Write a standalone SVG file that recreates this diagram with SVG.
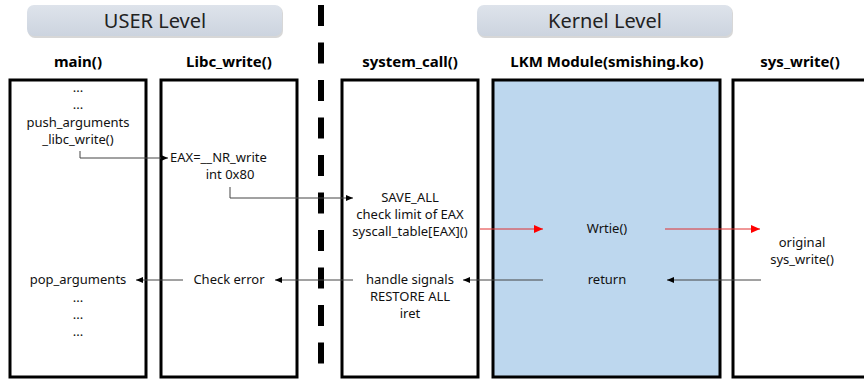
<svg xmlns="http://www.w3.org/2000/svg" width="864" height="380" viewBox="0 0 864 380">
<style>
.t{font-family:"Noto Sans","Liberation Sans",sans-serif;font-size:13px;fill:#111;text-anchor:middle}
.h{font-family:"Noto Sans","Liberation Sans",sans-serif;font-size:15px;font-weight:bold;fill:#000;text-anchor:middle}
.lv{font-family:"Noto Sans","Liberation Sans",sans-serif;font-size:20px;fill:#222;text-anchor:middle}
.box{fill:#fff;stroke:#000;stroke-width:3}
.c{fill:none;stroke:#444;stroke-width:1}
.r{fill:none;stroke:#e03030;stroke-width:1}
</style>
<defs>
<marker id="ab" markerWidth="8" markerHeight="8" refX="7" refY="4" orient="auto" markerUnits="userSpaceOnUse"><path d="M0,1 L7,4 L0,7 Z" fill="#000"/></marker>
<marker id="ar" markerWidth="10" markerHeight="10" refX="9" refY="5" orient="auto" markerUnits="userSpaceOnUse"><path d="M0,1 L9,5 L0,9 Z" fill="#f00"/></marker>
<linearGradient id="lg" x1="0" y1="0" x2="0" y2="1"><stop offset="0" stop-color="#DEE3EB"/><stop offset="1" stop-color="#CCD4DF"/></linearGradient>
</defs>
<g id="user-level"><rect x="28" y="6" width="255" height="32" rx="7" fill="#b0b0b0" opacity="0.5"/><rect x="27" y="5" width="255" height="31" rx="7" fill="url(#lg)"/><text class="lv" x="155" y="28">USER Level</text></g>
<g id="kernel-level"><rect x="478" y="6" width="255" height="32" rx="7" fill="#b0b0b0" opacity="0.5"/><rect x="477" y="5" width="255" height="31" rx="7" fill="url(#lg)"/><text class="lv" x="605" y="28">Kernel Level</text></g>
<g id="divider"><line x1="321" y1="5" x2="321" y2="380" stroke="#000" stroke-width="6" stroke-dasharray="21 16.5"/></g>
<g id="main">
<text class="h" x="78" y="67">main()</text>
<rect class="box" x="10" y="80" width="136" height="297"/>
<text class="t" x="78" y="92">...</text>
<text class="t" x="78" y="109">...</text>
<text class="t" x="78" y="127">push_arguments</text>
<text class="t" x="78" y="144">_libc_write()</text>
<text class="t" x="78" y="284">pop_arguments</text>
<text class="t" x="78" y="302">...</text>
<text class="t" x="78" y="319">...</text>
<text class="t" x="78" y="336">...</text>
</g>
<g id="libc_write">
<text class="h" x="229" y="67">Libc_write()</text>
<rect class="box" x="161" y="80" width="136" height="297"/>
<text class="t" x="170" y="162" style="text-anchor:start">EAX=__NR_write</text>
<text class="t" x="230" y="179">int 0x80</text>
<text class="t" x="229" y="284">Check error</text>
</g>
<g id="system_call">
<text class="h" x="410" y="67">system_call()</text>
<rect class="box" x="342" y="80" width="136" height="297"/>
<text class="t" x="410" y="202">SAVE_ALL</text>
<text class="t" x="410" y="219">check limit of EAX</text>
<text class="t" x="410" y="236">syscall_table[EAX]()</text>
<text class="t" x="410" y="284">handle signals</text>
<text class="t" x="410" y="301">RESTORE ALL</text>
<text class="t" x="410" y="318">iret</text>
</g>
<g id="lkm">
<text class="h" x="607" y="67">LKM Module(smishing.ko)</text>
<rect class="box" x="493" y="80" width="227" height="297" style="fill:#BDD7EE"/>
<text class="t" x="607" y="233">Wrtie()</text>
<text class="t" x="607" y="284">return</text>
</g>
<g id="sys_write">
<text class="h" x="800" y="67">sys_write()</text>
<rect class="box" x="733" y="80" width="140" height="297"/>
<text class="t" x="802" y="247">original</text>
<text class="t" x="802" y="264">sys_write()</text>
</g>
<g id="connectors">
<path class="c" d="M80,151 V158 H168" marker-end="url(#ab)"/>
<path class="c" d="M230,187 V198 H353" marker-end="url(#ab)"/>
<path class="r" d="M480,229 H543" marker-end="url(#ar)"/>
<path class="r" d="M665,229 H760" marker-end="url(#ar)"/>
<path class="c" d="M761,280 H667" marker-end="url(#ab)"/>
<path class="c" d="M543,280 H463" marker-end="url(#ab)"/>
<path class="c" d="M353,280 H275" marker-end="url(#ab)"/>
<path class="c" d="M183,280 H136" marker-end="url(#ab)"/>
</g>
</svg>
